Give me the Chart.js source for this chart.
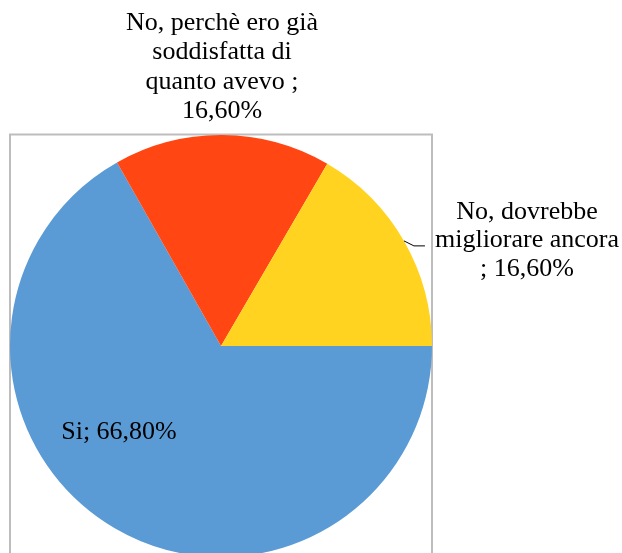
<!DOCTYPE html>
<html>
<head>
<meta charset="utf-8">
<style>
  html, body { margin: 0; padding: 0; background: #fff; overflow: hidden; }
  #wrap { position: relative; width: 622px; height: 600px; }
</style>
<script src="https://cdn.jsdelivr.net/npm/chart.js@4"></script>
</head>
<body>
<div id="wrap"><canvas id="myChart" width="622" height="600"></canvas></div>
<script>
const labels = ["Si", "No, perchè ero già soddisfatta di quanto avevo", "No, dovrebbe migliorare ancora"];
const values = [66.8, 16.6, 16.6];
const colors = ["#5B9BD5", "#FF4613", "#FFD320"];
// label text as it is wrapped in the picture
const labelLines = [
  ["Si; 66,80%"],
  ["No, perchè ero già", "soddisfatta di", "quanto avevo ;", "16,60%"],
  ["No, dovrebbe", "migliorare ancora", "; 16,60%"],
];

const frameAndLabels = {
  id: "frameAndLabels",
  beforeDraw: (chart) => {
    const ctx = chart.ctx;
    ctx.save();
    ctx.strokeStyle = "#bdbdbd";
    ctx.lineWidth = 2;
    ctx.strokeRect(10, 134.5, 422, 500);
    ctx.restore();
  },
  afterDraw: (chart) => {
    const ctx = chart.ctx;
    const arcs = chart.getDatasetMeta(0).data;
    ctx.save();
    ctx.fillStyle = "#000";
    ctx.textAlign = "center";
    ctx.textBaseline = "middle";
    ctx.font = "26px 'Liberation Serif', 'Times New Roman', serif";

    // Si: inside the slice
    ctx.fillText(labelLines[0][0], 119, 432);

    // top label
    labelLines[1].forEach((t, i) => ctx.fillText(t, 222, 23 + i * 29.5));

    // right label with leader line
    const a = arcs[2];
    const mid = (a.startAngle + a.endAngle) / 2;
    const sx = a.x + Math.cos(mid) * a.outerRadius;
    const sy = a.y + Math.sin(mid) * a.outerRadius;
    ctx.strokeStyle = "#000";
    ctx.lineWidth = 1;
    ctx.beginPath();
    ctx.moveTo(sx, sy);
    ctx.lineTo(sx + 10, sy + 5);
    ctx.lineTo(sx + 21, sy + 5);
    ctx.stroke();
    labelLines[2].forEach((t, i) => ctx.fillText(t, 527, 212 + i * 28.5));
    ctx.restore();
  },
};

const config = {
  type: "pie",
  data: {
    labels: labels,
    datasets: [
      {
        data: values,
        backgroundColor: colors,
        borderWidth: 0,
      },
    ],
  },
  options: {
    responsive: false,
    animation: false,
    rotation: 90,
    layout: {
      padding: { left: 10, right: 190, top: 135, bottom: 43 },
    },
    plugins: {
      legend: { display: false },
      tooltip: { enabled: false },
    },
  },
  plugins: [frameAndLabels],
};

new Chart(document.getElementById("myChart"), config);
</script>
</body>
</html>
